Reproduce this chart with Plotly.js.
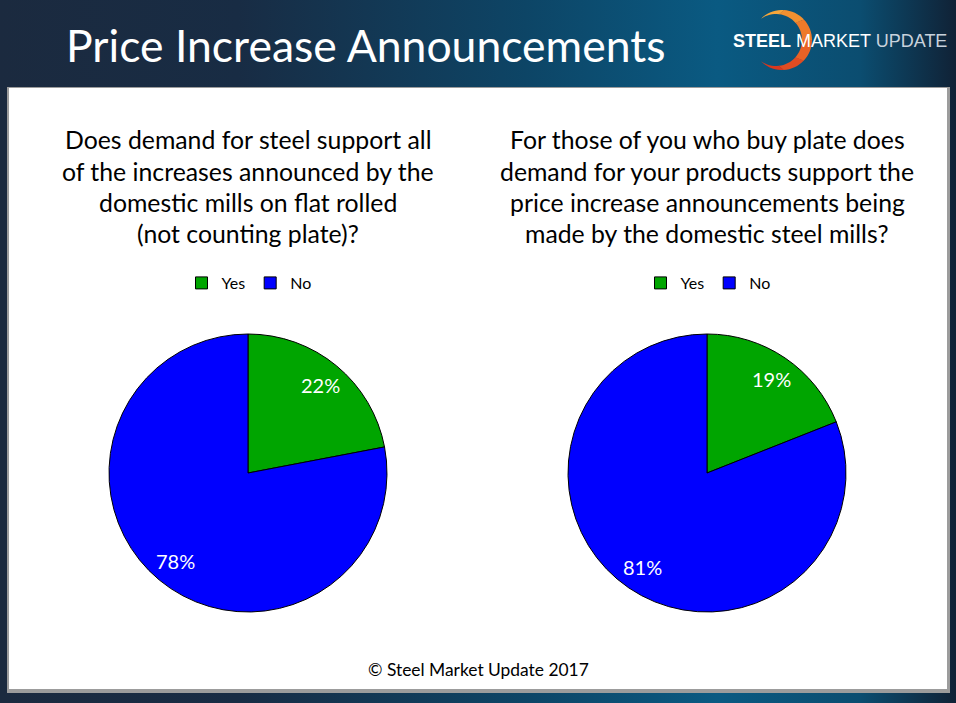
<!DOCTYPE html>
<html>
<head>
<meta charset="utf-8">
<script src="https://cdn.plot.ly/plotly-3.0.1.min.js"></script>
<style>
html,body{margin:0;padding:0;width:956px;height:703px;overflow:hidden;
background:linear-gradient(90deg,#1b2a3f 0%,#182c44 25%,#0d4566 55%,#0a5a82 75%,#0b4d70 90%,#102236 100%);}
#chart{width:956px;height:703px;}
</style>
</head>
<body>
<div id="chart"></div>
<script>
// ---- data ----
const categories = ["Yes", "No"];
const leftValues = [22, 78];
const rightValues = [19, 81];
const sliceColors = ["#00a500", "#0000ff"];
const chartTitle = "Price Increase Announcements";
const leftQuestion = ["Does demand for steel support all", "of the increases announced by the", "domestic mills on flat rolled", "(not counting plate)?"];
const rightQuestion = ["For those of you who buy plate does", "demand for your products support the", "price increase announcements being", "made by the domestic steel mills?"];
const footer = "\u00a9 Steel Market Update 2017";

// ---- helpers (pixel -> paper) ----
const W = 956, H = 703;
const px = x => x / W;
const py = y => 1 - y / H;

const font = "Lato, 'Open Sans', sans-serif";
const R = 139;
const centers = [[248, 473], [707, 473]];
function dom(c) {
  return { x: [px(c[0] - R), px(c[0] + R)], y: [py(c[1] + R), py(c[1] - R)] };
}

const allValues = [leftValues, rightValues];
const traces = allValues.map((vals, i) => ({
  type: "pie",
  // second pie's labels carry an invisible marker so each legend lists its own items
  labels: categories.map(c => i === 0 ? c : c + "\u200b"),
  values: vals,
  sort: false,
  direction: "clockwise",
  rotation: 0,
  domain: dom(centers[i]),
  marker: { colors: sliceColors, line: { color: "#000", width: 1 } },
  textinfo: "none",
  hoverinfo: "label+percent",
  legend: i === 0 ? "legend" : "legend2",
  showlegend: true
}));

const annotations = [];
// slice labels positioned from the data (mid-angle of each slice)
allValues.forEach((vals, i) => {
  const tot = vals.reduce((a, b) => a + b, 0);
  let cum = 0;
  vals.forEach(v => {
    const mid = (cum + v / 2) / tot * 2 * Math.PI;
    cum += v;
    const r = 0.82 * R;
    annotations.push({
      xref: "paper", yref: "paper",
      x: px(centers[i][0] + r * Math.sin(mid)), y: py(centers[i][1] - r * Math.cos(mid)),
      xanchor: "center", yanchor: "middle", showarrow: false,
      text: Math.round(v / tot * 100) + "%", font: { size: 20, color: "#fff", family: font }
    });
  });
});
[leftQuestion, rightQuestion].forEach((lines, i) => {
  lines.forEach((t, j) => {
    annotations.push({
      xref: "paper", yref: "paper", x: px(centers[i][0]), y: py(140 + j * 31.3),
      xanchor: "center", yanchor: "middle", showarrow: false,
      text: t, font: { size: 24.8, color: "#000", family: font }
    });
  });
});
annotations.push({
  xref: "paper", yref: "paper", x: px(64), y: py(45), xanchor: "left", yanchor: "middle",
  showarrow: false, text: chartTitle, font: { size: 44.5, color: "#fff", family: font }
});
annotations.push({
  xref: "paper", yref: "paper", x: px(478), y: py(669), xanchor: "center", yanchor: "middle",
  showarrow: false, text: footer, font: { size: 17.4, color: "#000", family: font }
});
annotations.push({
  xref: "paper", yref: "paper", x: px(840), y: py(41), xanchor: "center", yanchor: "middle",
  showarrow: false,
  text: "<b>STEEL</b> MARKET <span style='color:#c8d2dc'>UPDATE</span>",
  font: { size: 18, color: "#fff", family: "'Liberation Sans', Arial, sans-serif" }
});

// ---- decorative shapes: panel + logo crescent ----
const shapes = [
  { type: "rect", xref: "paper", yref: "paper", x0: px(7), x1: px(950), y0: py(693), y1: py(87),
    fillcolor: "#9c9c9c", line: { width: 0 }, layer: "below" },
  { type: "rect", xref: "paper", yref: "paper", x0: px(9), x1: px(947), y0: py(689), y1: py(88),
    fillcolor: "#ffffff", line: { width: 0 }, layer: "below" }
];
const segColors = ["#f6a63a", "#f29030", "#ee7a2a", "#e86226", "#e04c22", "#d8381e"];
const a0 = -130, a1 = 130, nSeg = segColors.length;
for (let s = 0; s < nSeg; s++) {
  const sA = a0 + (a1 - a0) * s / nSeg, eA = a0 + (a1 - a0) * (s + 1) / nSeg + 0.5;
  const pts = [];
  const steps = 8;
  for (let k = 0; k <= steps; k++) {
    const a = (sA + (eA - sA) * k / steps) * Math.PI / 180;
    pts.push([782 + 30 * Math.cos(a), 40 + 30 * Math.sin(a)]);
  }
  for (let k = steps; k >= 0; k--) {
    const aa = sA + (eA - sA) * k / steps;
    const a = aa * (125 / 130) * Math.PI / 180;
    pts.push([776 + 26 * Math.cos(a), 40 + 26 * Math.sin(a)]);
  }
  const path = pts.map((p, k) => (k ? "L" : "M") + px(p[0]).toFixed(5) + "," + py(p[1]).toFixed(5)).join("") + "Z";
  shapes.push({ type: "path", xref: "paper", yref: "paper", path: path,
    fillcolor: segColors[s], line: { width: 0 }, layer: "above" });
}

const legendCommon = {
  orientation: "h", xanchor: "center", yanchor: "middle", y: py(283),
  font: { size: 16, color: "#000", family: font }, bgcolor: "rgba(0,0,0,0)",
  traceorder: "normal", itemclick: false, itemdoubleclick: false
};

const layout = {
  width: W, height: H,
  margin: { l: 0, r: 0, t: 0, b: 0 },
  paper_bgcolor: "rgba(0,0,0,0)",
  plot_bgcolor: "rgba(0,0,0,0)",
  showlegend: true,
  legend: Object.assign({}, legendCommon, { x: px(249) }),
  legend2: Object.assign({}, legendCommon, { x: px(708) }),
  annotations: annotations,
  shapes: shapes
};

Plotly.newPlot("chart", traces, layout, { displayModeBar: false, staticPlot: true });
</script>
</body>
</html>
